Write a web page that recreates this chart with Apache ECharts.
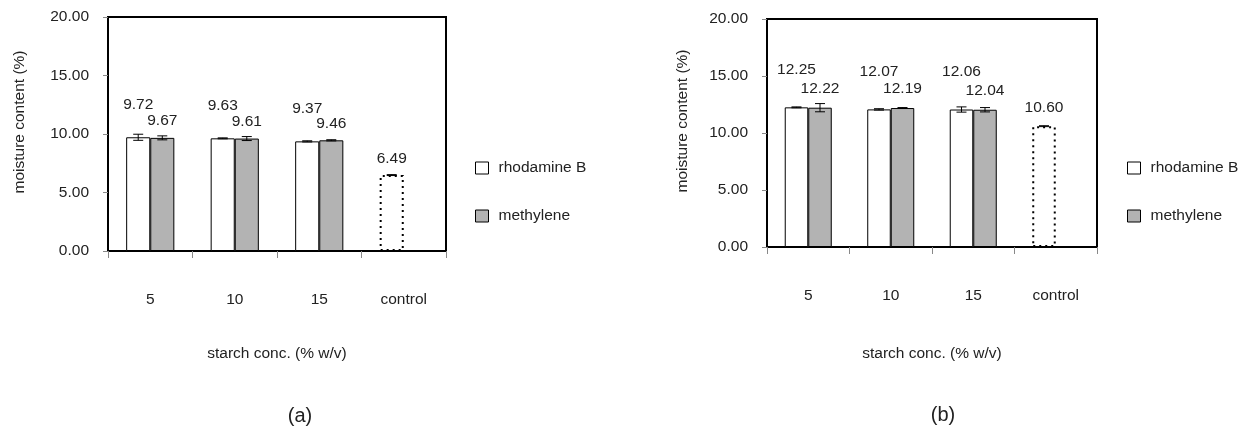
<!DOCTYPE html>
<html>
<head>
<meta charset="utf-8">
<script src="https://cdn.jsdelivr.net/npm/echarts@6/dist/echarts.min.js"></script>
<style>
  html, body { margin: 0; padding: 0; background: #fff; }
  #chart { width: 1254px; height: 428px; }
</style>
</head>
<body>
<div id="chart"></div>
<script>
// ---- data ----
const categories = ['5', '10', '15', 'control'];
const seriesNames = ['rhodamine B', 'methylene'];
const yTicks = [0, 5, 10, 15, 20];

// panel (a)
const rhodamineA = [9.72, 9.63, 9.37, 6.49];
const methyleneA = [9.67, 9.61, 9.46, null];
const rhodamineErrA = [0.26, 0.04, 0.05, 0.04];
const methyleneErrA = [0.17, 0.17, 0.05, null];

// panel (b)
const rhodamineB = [12.25, 12.07, 12.06, 10.60];
const methyleneB = [12.22, 12.19, 12.04, null];
const rhodamineErrB = [0.04, 0.06, 0.23, 0.04];
const methyleneErrB = [0.36, 0.04, 0.19, null];

const panelLabels = ['(a)', '(b)'];
const xName = 'starch conc. (% w/v)';
const yName = 'moisture content (%)';

// ---- styling ----
const FONT = "'Liberation Sans', Arial, sans-serif";
const TXT = '#222';
const FS = 15.5;
const BAR_FRAC = 0.285;

const chart = echarts.init(document.getElementById('chart'), null, { renderer: 'canvas' });

function xAxis(gi, gap) {
  return {
    type: 'category', gridIndex: gi, data: categories,
    axisLine: { lineStyle: { color: '#000', width: 2 } },
    axisTick: { show: true, length: 7, lineStyle: { color: '#888', width: 1 } },
    axisLabel: { margin: 41, color: TXT, fontSize: FS, fontFamily: FONT },
    name: xName, nameLocation: 'middle', nameGap: gap,
    nameTextStyle: { color: TXT, fontSize: FS, fontFamily: FONT }
  };
}
function yAxis(gi, gap) {
  return {
    type: 'value', gridIndex: gi, min: yTicks[0], max: yTicks[yTicks.length - 1],
    interval: yTicks[1] - yTicks[0],
    splitLine: { show: false },
    axisLine: { show: true, lineStyle: { color: '#000', width: 2 } },
    axisTick: { show: true, length: 5, lineStyle: { color: '#888' } },
    axisLabel: { color: TXT, fontSize: FS, fontFamily: FONT, margin: 19,
      formatter: v => v.toFixed(2) },
    name: yName, nameLocation: 'middle', nameGap: gap, nameRotate: 90,
    nameTextStyle: { color: TXT, fontSize: FS, fontFamily: FONT, padding: [0, 0, 0, 24] }
  };
}

function barSeries(name, gi, values, color, dist, ctrlDist) {
  return {
    type: 'bar', name: name, xAxisIndex: gi, yAxisIndex: gi,
    barWidth: (BAR_FRAC * 100) + '%', barGap: '0%',
    itemStyle: { color: color, borderColor: '#000', borderWidth: 1 },
    label: { show: true, position: 'top', distance: dist, color: TXT,
      fontSize: FS, fontFamily: FONT, formatter: p => p.value == null ? '' : Number(p.value).toFixed(2) },
    data: values.map((v, i) => {
      if (v == null) return null;
      if (categories[i] === 'control') {
        return { value: v,
          itemStyle: { color: '#fff', borderColor: '#000', borderWidth: 2, borderType: [2, 4] },
          label: { distance: ctrlDist } };
      }
      return v;
    }),
    z: 2
  };
}

function errSeries(gi, values, errs, side) {
  return {
    type: 'custom', xAxisIndex: gi, yAxisIndex: gi, z: 5, silent: true,
    data: values.map((v, i) => [i, v, errs[i]]).filter(d => d[1] != null),
    renderItem: function (params, api) {
      const i = api.value(0), v = api.value(1), e = api.value(2);
      const catW = api.size([1, 0])[0];
      const bw = catW * BAR_FRAC;
      const c = api.coord([i, v]);
      const x = c[0] + side * bw / 2;
      const yHi = api.coord([i, v + e])[1];
      const yLo = api.coord([i, v - e])[1];
      const cap = 5;
      const st = { stroke: '#000', lineWidth: 1 };
      return { type: 'group', children: [
        { type: 'line', shape: { x1: x, y1: yHi, x2: x, y2: yLo }, style: st },
        { type: 'line', shape: { x1: x - cap, y1: yHi, x2: x + cap, y2: yHi }, style: st },
        { type: 'line', shape: { x1: x - cap, y1: yLo, x2: x + cap, y2: yLo }, style: st }
      ]};
    }
  };
}

const legendBase = {
  orient: 'vertical', icon: 'rect', itemWidth: 13, itemHeight: 12, itemGap: 32,
  padding: 0,
  data: seriesNames,
  textStyle: { color: TXT, fontSize: FS, fontFamily: FONT, lineHeight: 16, padding: [0, 0, 0, 5] },
  itemStyle: { borderColor: '#000', borderWidth: 1 }
};

const option = {
  animation: false,
  backgroundColor: '#fff',
  grid: [
    { left: 108, top: 17, width: 338, height: 234, show: true, borderColor: '#000', borderWidth: 2, backgroundColor: 'transparent' },
    { left: 767, top: 19, width: 330, height: 228, show: true, borderColor: '#000', borderWidth: 2, backgroundColor: 'transparent' }
  ],
  xAxis: [xAxis(0, 95), xAxis(1, 99)],
  yAxis: [yAxis(0, 80), yAxis(1, 76)],
  legend: [
    Object.assign({}, legendBase, { left: 475, top: 160 }),
    Object.assign({}, legendBase, { left: 1127, top: 160 })
  ],
  graphic: [
    { type: 'text', x: 300, y: 416, style: { text: panelLabels[0], fill: TXT, fontSize: 20, fontFamily: FONT, textAlign: 'center', textVerticalAlign: 'middle' } },
    { type: 'text', x: 943, y: 415, style: { text: panelLabels[1], fill: TXT, fontSize: 20, fontFamily: FONT, textAlign: 'center', textVerticalAlign: 'middle' } }
  ],
  series: [
    barSeries(seriesNames[0], 0, rhodamineA, '#ffffff', 25, 8),
    barSeries(seriesNames[1], 0, methyleneA, '#b3b3b3', 9, 8),
    barSeries(seriesNames[0], 1, rhodamineB, '#ffffff', 30, 10),
    barSeries(seriesNames[1], 1, methyleneB, '#b3b3b3', 11, 10),
    errSeries(0, rhodamineA, rhodamineErrA, -1),
    errSeries(0, methyleneA, methyleneErrA, 1),
    errSeries(1, rhodamineB, rhodamineErrB, -1),
    errSeries(1, methyleneB, methyleneErrB, 1)
  ]
};
chart.setOption(option);
</script>
</body>
</html>
